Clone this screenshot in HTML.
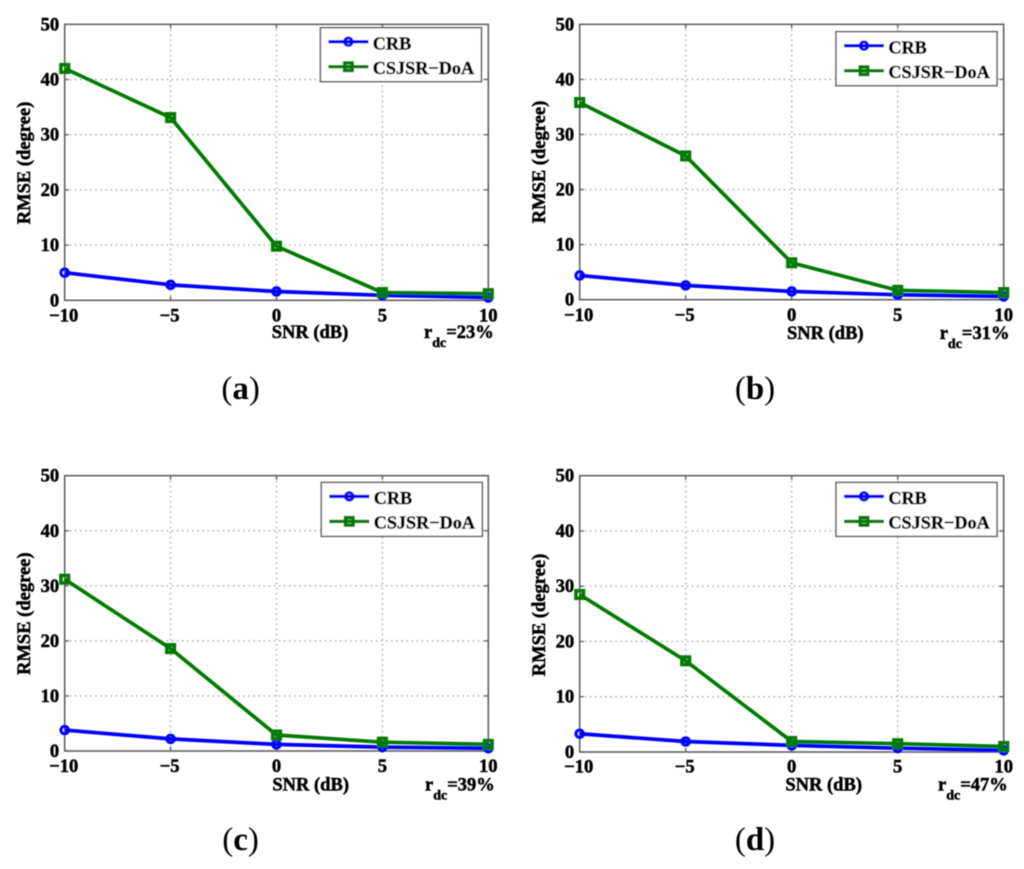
<!DOCTYPE html>
<html lang="en">
<head>
<meta charset="utf-8">
<title>RMSE versus SNR for four downlink ratios</title>
<style>
  html, body { margin: 0; padding: 0; background: #fff; }
  svg { display: block; }
  text { font-family: "Liberation Serif", serif; fill: #000; stroke: #000; stroke-width: 0.5px; }
  .tick-label { font-size: 18.6px; font-weight: bold; }
  .axis-title { font-size: 18.5px; font-weight: bold; }
  .legend-text { font-size: 18.2px; font-weight: bold; }
  .caption { font-size: 33px; stroke-width: 0; }
</style>
</head>
<body>
<svg id="figure" xmlns="http://www.w3.org/2000/svg" width="1024" height="869" viewBox="0 0 1024 869">
  <defs>
    <filter id="soften" x="-2%" y="-2%" width="104%" height="104%">
      <feGaussianBlur stdDeviation="0.45"/>
    </filter>
  </defs>
  <rect x="0" y="0" width="1024" height="869" fill="#fff"/>
  <g id="root" filter="url(#soften)"></g>
</svg>
<script>
// Axis categories and tick labels
const snrCategories = [-10, -5, 0, 5, 10];
const xTickLabels = ['\u221210', '\u22125', '0', '5', '10'];
const yTickValues = [0, 10, 20, 30, 40, 50];

// Series values
const crbA = [5.0, 2.8, 1.6, 0.9, 0.5];
const csjsrA = [42.0, 33.1, 9.8, 1.4, 1.2];
const crbB = [4.4, 2.6, 1.5, 0.9, 0.6];
const csjsrB = [35.8, 26.1, 6.7, 1.7, 1.3];
const crbC = [3.8, 2.2, 1.2, 0.7, 0.5];
const csjsrC = [31.2, 18.6, 2.9, 1.6, 1.2];
const crbD = [3.3, 1.9, 1.2, 0.7, 0.3];
const csjsrD = [28.5, 16.5, 1.9, 1.5, 1.0];

const NS = 'http://www.w3.org/2000/svg';
const BLUE = '#0000ff';
const GREEN = '#007a00';
const AXIS = '#606060';
const GRID = '#a0a0a0';
const root = document.getElementById('root');

function make(parent, tag, attrs, text) {
  const el = document.createElementNS(NS, tag);
  for (const k in attrs) el.setAttribute(k, attrs[k]);
  if (text !== undefined) el.textContent = text;
  parent.appendChild(el);
  return el;
}

function drawMarker(parent, kind, cx, cy, color) {
  if (kind === 'circle') {
    return make(parent, 'circle', { cx: cx, cy: cy, r: 3.8, fill: 'none', stroke: color, 'stroke-width': 3 });
  }
  return make(parent, 'rect', { x: cx - 3.8, y: cy - 3.8, width: 7.6, height: 7.6, fill: 'none', stroke: color, 'stroke-width': 3.5 });
}

function drawPanel(id, box, crb, csjsr, ratio, labels, legendBox, caption) {
  const sx = v => box.left + (v + 10) / 20 * (box.right - box.left);
  const sy = v => box.bottom - v / 50 * (box.bottom - box.top);

  const g = make(root, 'g', {});
  
  

  // Grid
  snrCategories.forEach(v => {
    if (v === -10 || v === 10) return;
    const line = make(g, 'line', { x1: sx(v), x2: sx(v), y1: box.top, y2: box.bottom, stroke: GRID, 'stroke-width': 1.4, 'stroke-dasharray': '1.4 3.7' });
    
    
  });
  yTickValues.forEach(v => {
    if (v === 0 || v === 50) return;
    const line = make(g, 'line', { x1: box.left, x2: box.right, y1: sy(v), y2: sy(v), stroke: GRID, 'stroke-width': 1.4, 'stroke-dasharray': '1.4 3.7' });
    
    
  });

  // Plot frame
  const frame = make(g, 'rect', { x: box.left, y: box.top, width: box.right - box.left, height: box.bottom - box.top, fill: 'none', stroke: AXIS, 'stroke-width': 1.6 });
  
  

  // Ticks and tick labels
  snrCategories.forEach((v, i) => {
    const tickB = make(g, 'line', { x1: sx(v), x2: sx(v), y1: box.bottom, y2: box.bottom - 4, stroke: AXIS, 'stroke-width': 1.4 });
    
    
    const tickT = make(g, 'line', { x1: sx(v), x2: sx(v), y1: box.top, y2: box.top + 4, stroke: AXIS, 'stroke-width': 1.4 });
    
    
    const label = make(g, 'text', { class: 'tick-label', x: sx(v) - (v < 0 ? 1 : 0), y: labels.xTickY, 'text-anchor': 'middle' }, xTickLabels[i]);
    
    
  });
  yTickValues.forEach(v => {
    const tickL = make(g, 'line', { x1: box.left, x2: box.left + 4, y1: sy(v), y2: sy(v), stroke: AXIS, 'stroke-width': 1.4 });
    
    
    const tickR = make(g, 'line', { x1: box.right, x2: box.right - 4, y1: sy(v), y2: sy(v), stroke: AXIS, 'stroke-width': 1.4 });
    
    
    const label = make(g, 'text', { class: 'tick-label', x: box.left - 5.5, y: sy(v) + 6, 'text-anchor': 'end' }, String(v));
    
    
  });

  // Series
  const crbPoints = crb.map((v, i) => sx(snrCategories[i]) + ',' + sy(v)).join(' ');
  const crbLine = make(g, 'polyline', { points: crbPoints, fill: 'none', stroke: BLUE, 'stroke-width': 3.7, 'stroke-linejoin': 'round' });
  
  
  crb.forEach((v, i) => {
    const m = drawMarker(g, 'circle', sx(snrCategories[i]), sy(v), BLUE);
    
    
  });

  const csjsrPoints = csjsr.map((v, i) => sx(snrCategories[i]) + ',' + sy(v)).join(' ');
  const csjsrLine = make(g, 'polyline', { points: csjsrPoints, fill: 'none', stroke: GREEN, 'stroke-width': 3.7, 'stroke-linejoin': 'round' });
  
  
  csjsr.forEach((v, i) => {
    const m = drawMarker(g, 'square', sx(snrCategories[i]), sy(v), GREEN);
    
    
  });

  // Axis titles
  const xTitle = make(g, 'text', { class: 'axis-title', x: labels.xTitleX, y: labels.xTitleY, 'text-anchor': 'middle' }, 'SNR (dB)');
  
  

  const yTitle = make(g, 'text', { class: 'axis-title', 'text-anchor': 'middle', transform: 'translate(' + labels.yTitleX + ' ' + labels.yTitleY + ') rotate(-90)' }, 'RMSE (degree)');
  
  

  // Ratio annotation
  const note = make(g, 'text', { class: 'axis-title', x: labels.noteX, y: labels.xTitleY });
  
  
  make(note, 'tspan', {}, 'r');
  make(note, 'tspan', { dy: 9, 'font-size': '14px' }, 'dc');
  make(note, 'tspan', { dy: -9 }, '=' + ratio + '%');

  // Legend
  const legend = make(g, 'g', {});
  
  
  const legendFrame = make(legend, 'rect', { x: legendBox.x, y: legendBox.y, width: 161, height: 54, fill: '#fff', stroke: AXIS, 'stroke-width': 1.5 });
  
  

  const crbKey = make(legend, 'line', { x1: legendBox.x + 8, x2: legendBox.x + 48, y1: legendBox.y + 14, y2: legendBox.y + 14, stroke: BLUE, 'stroke-width': 3.4 });
  
  
  const crbKeyMarker = drawMarker(legend, 'circle', legendBox.x + 28, legendBox.y + 14, BLUE);
  
  
  const crbText = make(legend, 'text', { class: 'legend-text', x: legendBox.x + 52.4, y: legendBox.y + 21.7 }, 'CRB');
  
  

  const csjsrKey = make(legend, 'line', { x1: legendBox.x + 8, x2: legendBox.x + 48, y1: legendBox.y + 39, y2: legendBox.y + 39, stroke: GREEN, 'stroke-width': 3.4 });
  
  
  const csjsrKeyMarker = drawMarker(legend, 'square', legendBox.x + 28, legendBox.y + 39, GREEN);
  
  
  const csjsrText = make(legend, 'text', { class: 'legend-text', x: legendBox.x + 52.4, y: legendBox.y + 46.3 }, 'CSJSR\u2212DoA');
  
  

  // Panel caption
  const cap = make(g, 'text', { class: 'caption', x: caption.x, y: caption.y, 'text-anchor': 'middle' });
  
  
  make(cap, 'tspan', {}, '(');
  make(cap, 'tspan', { 'font-weight': 'bold' }, id);
  make(cap, 'tspan', {}, ')');
}

drawPanel('a', { left: 64.7, right: 488.3, top: 24.3, bottom: 300.3 }, crbA, csjsrA, 23,
  { xTickY: 321.5, xTitleX: 310, xTitleY: 338, yTitleX: 30, yTitleY: 163, noteX: 424 },
  { x: 320.4, y: 27.7 }, { x: 240.6, y: 399 });

drawPanel('b', { left: 579.7, right: 1003.7, top: 24.3, bottom: 299.7 }, crbB, csjsrB, 31,
  { xTickY: 321, xTitleX: 825.3, xTitleY: 339, yTitleX: 545, yTitleY: 162, noteX: 939.7 },
  { x: 836, y: 31.7 }, { x: 755, y: 399 });

drawPanel('c', { left: 64.7, right: 488.3, top: 475.7, bottom: 751 }, crbC, csjsrC, 39,
  { xTickY: 772, xTitleX: 310.7, xTitleY: 790.7, yTitleX: 30, yTitleY: 613.7, noteX: 425 },
  { x: 321.3, y: 482.4 }, { x: 240.6, y: 850 });

drawPanel('d', { left: 579.7, right: 1003.7, top: 475.7, bottom: 752 }, crbD, csjsrD, 47,
  { xTickY: 772.5, xTitleX: 823.7, xTitleY: 790.7, yTitleX: 545, yTitleY: 615, noteX: 938 },
  { x: 836, y: 482.4 }, { x: 755, y: 850 });
</script>
</body>
</html>
